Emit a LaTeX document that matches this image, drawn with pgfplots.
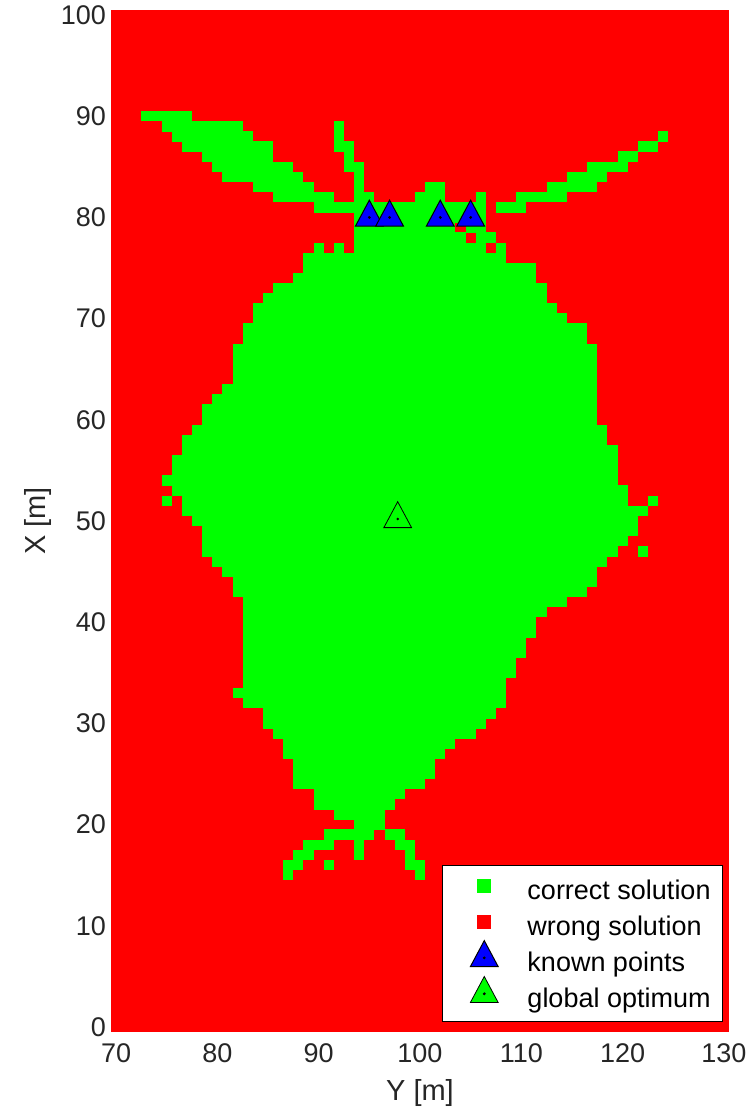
\documentclass[border=0pt]{standalone}
\usepackage{pgfplots}
\pgfplotsset{compat=1.18}
\usepackage{pgfplotstable}
\usepackage{fontspec}
\setmainfont{Liberation Sans}

% green cells: each row y holds the cells xa..xb (1 m grid)
\pgfplotstableread{
xa xb y
73 77 90
75 82 89
92 92 89
76 83 88
92 92 88
124 124 88
77 85 87
92 93 87
122 123 87
79 85 86
93 93 86
120 121 86
80 87 85
93 94 85
117 120 85
81 88 84
94 94 84
115 118 84
84 89 83
94 94 83
101 102 83
113 117 83
86 91 82
94 95 82
100 102 82
106 106 82
110 114 82
90 106 81
108 110 81
94 106 80
94 103 79
105 106 79
94 104 78
106 107 78
90 90 77
92 92 77
94 106 77
108 108 77
89 108 76
89 111 75
88 111 74
86 112 73
85 112 72
84 113 71
84 114 70
83 116 69
83 116 68
82 117 67
82 117 66
82 117 65
82 117 64
81 117 63
80 117 62
79 117 61
79 117 60
78 118 59
77 118 58
77 119 57
76 119 56
76 119 55
75 119 54
76 120 53
75 75 52
77 120 52
123 123 52
77 122 51
78 121 50
79 121 49
79 120 48
79 119 47
122 122 47
80 118 46
81 117 45
82 117 44
82 116 43
83 114 42
83 112 41
83 111 40
83 111 39
83 110 38
83 110 37
83 109 36
83 109 35
83 108 34
82 108 33
83 108 32
85 107 31
85 106 30
86 105 29
87 103 28
87 102 27
88 101 26
88 101 25
88 100 24
90 98 23
90 97 22
92 96 21
94 96 20
91 95 19
97 98 19
89 91 18
94 94 18
98 99 18
88 89 17
94 94 17
99 99 17
87 88 16
91 91 16
99 100 16
87 87 15
100 100 15
}\cells

\pgfplotsset{
  legsq/.style={legend image code/.code={%
    \path[draw=none, fill=none] (-0.23cm,-2.8pt) rectangle (0.62cm,9.7pt);
    \begin{pgfinterruptboundingbox}
    \draw[##1] plot coordinates {(0.3cm,3.4pt)};
    \end{pgfinterruptboundingbox}}},
  legtri/.style={legend image code/.code={%
    \path[draw=none, fill=none] (-0.23cm,-2.8pt) rectangle (0.62cm,9.7pt);
    \begin{pgfinterruptboundingbox}
    \draw[##1] plot coordinates {(0.3cm,3.4pt)};
    \fill[black] (0.3cm,3.4pt) circle (0.5pt);
    \end{pgfinterruptboundingbox}}},
}

\begin{document}
\begin{tikzpicture}
\begin{axis}[
  at={(0,0)}, anchor=south west,
  scale only axis, width=309pt, height=511pt,
  xmin=69.5, xmax=130.5, ymin=-0.5, ymax=100.5,
  xtick={70,80,...,130}, ytick={0,10,...,100},
  axis background/.style={fill=red},
  axis line style={draw=none},
  major tick length=0pt,
  /pgf/number format/assume math mode=true,
  tick label style={font=\fontsize{13.5}{16}\selectfont, text=black!85},
  xticklabel style={yshift=-2.5pt},
  yticklabel style={xshift=1pt},
  xlabel={Y [m]}, ylabel={X [m]},
  label style={font=\fontsize{14.5}{17}\selectfont, text=black!85},
  xlabel style={at={(axis description cs:0.5,-0.06)}, anchor=center},
  ylabel style={at={(axis description cs:-0.118,0.5)}, anchor=center},
  legend style={at={(1,0)}, anchor=south east, xshift=-3pt, yshift=5pt,
    draw=black, fill=white, inner xsep=6pt, inner ysep=4.25pt,
    font=\fontsize{13.5}{16}\selectfont,
    nodes={inner sep=0pt, text height=9.7pt, text depth=2.8pt},
    row sep=2pt, column sep=12.5pt},
  legend cell align=left,
]
\addplot[forget plot, draw=green, line width=5.25pt,
  quiver={u=\thisrow{xb}-\thisrow{xa}+1, v=0,
    every arrow/.append style={draw=green, line width=5.25pt, line cap=butt, -}}]
  table[x expr=\thisrow{xa}-0.5, y=y] {\cells};

\addlegendimage{legsq, only marks, mark=square*, mark size=3.3pt, draw=green, fill=green}
\addlegendentry{correct solution}
\addlegendimage{legsq, only marks, mark=square*, mark size=3.3pt, draw=red, fill=red}
\addlegendentry{wrong solution}

\addplot[legtri, only marks, mark=triangle*, mark size=8pt,
  mark options={draw=black, fill=blue, line width=0.5pt, yscale=1.08}]
  coordinates {(95,80) (97,80) (102,80) (105,80)};
\addlegendentry{known points}
\addplot[forget plot, only marks, mark=*, mark size=0.5pt, black]
  coordinates {(95,80) (97,80) (102,80) (105,80)};

\addplot[legtri, only marks, mark=triangle*, mark size=8pt,
  mark options={draw=black, fill=green, line width=0.4pt, yscale=1.08}]
  coordinates {(97.8,50.2)};
\addlegendentry{global optimum}
\addplot[forget plot, only marks, mark=*, mark size=0.4pt, black]
  coordinates {(97.8,50.2)};
\end{axis}
\pgfresetboundingbox
\path[use as bounding box] (-55.5pt,-42pt) rectangle (321pt,516pt);
\end{tikzpicture}
\end{document}
